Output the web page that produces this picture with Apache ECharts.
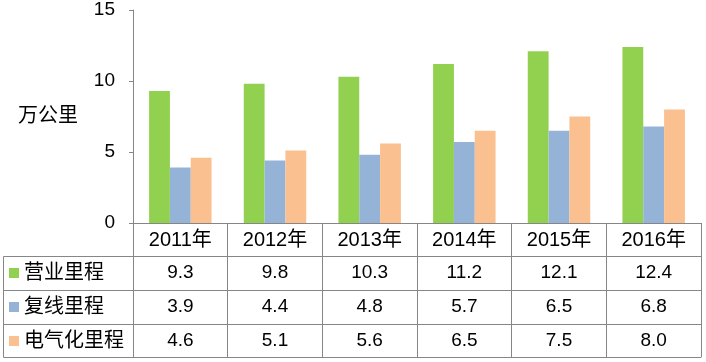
<!DOCTYPE html>
<html>
<head>
<meta charset="utf-8">
<script src="https://cdn.jsdelivr.net/npm/echarts@6/dist/echarts.min.js"></script>
<style>
html,body{margin:0;padding:0;background:#fff;}
#chart{width:706px;height:362px;}
</style>
</head>
<body>
<div id="chart"></div>
<script>
const years = ['2011年', '2012年', '2013年', '2014年', '2015年', '2016年'];
const seriesNames = ['营业里程', '复线里程', '电气化里程'];
const operatingKm = [9.3, 9.8, 10.3, 11.2, 12.1, 12.4];
const doubleTrackKm = [3.9, 4.4, 4.8, 5.7, 6.5, 6.8];
const electrifiedKm = [4.6, 5.1, 5.6, 6.5, 7.5, 8.0];
const yMin = 0, yMax = 15, yStep = 5;
const yUnit = '万公里';

const colors = ['#92D050', '#95B3D7', '#FAC090'];
const lineColor = '#868686';
const fontFamily = "'Liberation Sans', Arial, 'Noto Sans CJK SC', sans-serif";
const allValues = [operatingKm, doubleTrackKm, electrifiedKm];

const chart = echarts.init(document.getElementById('chart'));

const rowH = 34;
const headerH = 33;
const tableAxes = allValues.map((vals, i) => ({
  type: 'category',
  gridIndex: 0,
  position: 'bottom',
  offset: headerH + i * rowH,
  data: vals.map(v => v.toFixed(1)),
  axisLine: { show: true, lineStyle: { color: lineColor, width: 1 } },
  axisTick: { show: false },
  axisLabel: { interval: 0, margin: 17, verticalAlign: 'middle', fontSize: 19, color: '#000', fontFamily: fontFamily }
}));

const option = {
  animation: false,
  backgroundColor: '#fff',
  color: colors,
  textStyle: { fontFamily: fontFamily },
  grid: { left: 133, right: 5, top: 10, bottom: 139, containLabel: false, outerBoundsMode: 'none' },
  legend: {
    orient: 'vertical',
    left: 9,
    top: 263,
    padding: 0,
    itemWidth: 10,
    itemHeight: 10,
    itemGap: 14,
    icon: 'rect',
    selectedMode: false,
    data: seriesNames,
    textStyle: { fontSize: 20, lineHeight: 20, color: '#000', fontFamily: fontFamily }
  },
  xAxis: [
    {
      type: 'category',
      gridIndex: 0,
      position: 'bottom',
      data: years,
      axisLine: { show: true, lineStyle: { color: lineColor, width: 1 } },
      axisTick: { show: true, interval: 0, length: headerH + rowH * 3 - 1, lineStyle: { color: lineColor, width: 1 } },
      axisLabel: { interval: 0, margin: 17, verticalAlign: 'middle', fontSize: 20, color: '#000', fontFamily: fontFamily }
    }
  ].concat(tableAxes).concat([
    {
      type: 'category',
      gridIndex: 0,
      position: 'bottom',
      offset: headerH + rowH * 3 - 1,
      data: years,
      axisLine: { show: true, lineStyle: { color: lineColor, width: 1 } },
      axisTick: { show: false },
      axisLabel: { show: false }
    }
  ]),
  yAxis: {
    type: 'value',
    min: yMin,
    max: yMax,
    interval: yStep,
    name: yUnit,
    nameLocation: 'middle',
    nameGap: 55,
    nameRotate: 0,
    nameTextStyle: { fontSize: 20, color: '#000', fontFamily: fontFamily },
    axisLine: { show: true, lineStyle: { color: lineColor, width: 1 } },
    axisTick: { show: true, length: 4, lineStyle: { color: lineColor, width: 1 } },
    splitLine: { show: false },
    axisLabel: { margin: 18, fontSize: 19, color: '#000', fontFamily: fontFamily }
  },
  series: seriesNames.map((name, i) => ({
    name: name,
    type: 'bar',
    xAxisIndex: 0,
    yAxisIndex: 0,
    data: allValues[i],
    barGap: 0,
    barCategoryGap: '34%',
    itemStyle: { color: colors[i] }
  })),
  graphic: []
};
chart.setOption(option);

// table frame for the row-label column (left of the plot area)
const x0 = chart.convertToPixel({ xAxisIndex: 0 }, 0) - (chart.convertToPixel({ xAxisIndex: 0 }, 1) - chart.convertToPixel({ xAxisIndex: 0 }, 0)) / 2;
const yZero = chart.convertToPixel({ yAxisIndex: 0 }, 0);
const leftX = 3.5;
const ax = Math.round(x0) + 0.5;
const lines = [];
for (let k = 0; k < 4; k++) {
  const y = Math.round(yZero + headerH + k * rowH - (k === 3 ? 1 : 0)) + 0.5;
  lines.push({ type: 'line', shape: { x1: leftX, y1: y, x2: ax, y2: y }, style: { stroke: lineColor, lineWidth: 1 }, silent: true });
}
const yTop = Math.round(yZero + headerH) + 0.5;
const yBot = Math.round(yZero + headerH + 3 * rowH - 1) + 0.5;
lines.push({ type: 'line', shape: { x1: leftX, y1: yTop, x2: leftX, y2: yBot }, style: { stroke: lineColor, lineWidth: 1 }, silent: true });
chart.setOption({ graphic: lines });
</script>
</body>
</html>
